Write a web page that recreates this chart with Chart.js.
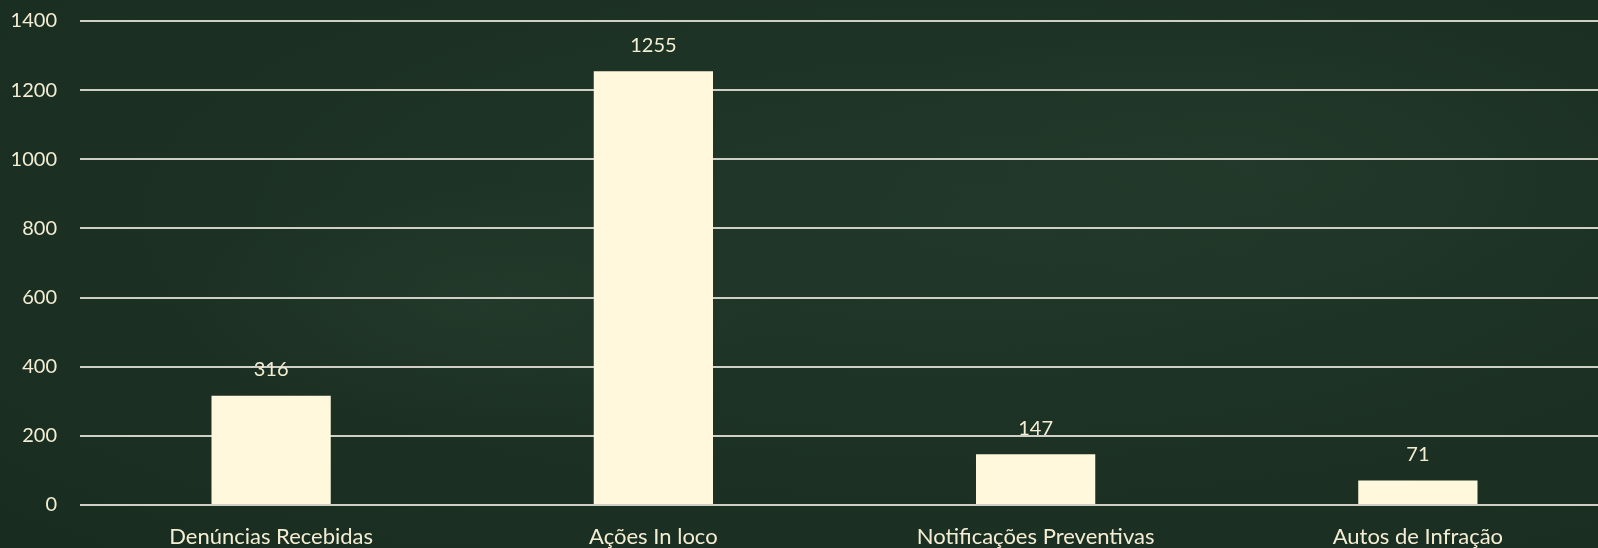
<!DOCTYPE html>
<html>
<head>
<meta charset="utf-8">
<script src="https://cdn.jsdelivr.net/npm/chart.js@4.4.1/dist/chart.umd.min.js"></script>
<style>
  html, body { margin: 0; padding: 0; }
  body {
    width: 1598px; height: 548px; overflow: hidden;
    background:
      radial-gradient(ellipse 300px 120px at 30% 55%, rgba(40,62,46,0.5), rgba(40,62,46,0)),
      radial-gradient(ellipse 400px 160px at 78% 30%, rgba(38,60,45,0.5), rgba(38,60,45,0)),
      radial-gradient(ellipse at 60% 40%, #20382a 0%, #1c3124 55%, #192c20 100%);
  }
  /* the plot runs a little past the right edge, as in the original */
  #wrap { position: relative; width: 1609px; height: 548px; }
</style>
</head>
<body>
<div id="wrap"><canvas id="bars"></canvas></div>
<script>
const categories = ['Denúncias Recebidas', 'Ações In loco', 'Notificações Preventivas', 'Autos de Infração'];
const values = [316, 1255, 147, 71];
const yTicks = [0, 200, 400, 600, 800, 1000, 1200, 1400];

const cream = '#fff8dc';
const textColor = '#f3eed3';

// value labels above each bar
const valueLabels = {
  id: 'valueLabels',
  afterDatasetsDraw(chart) {
    const ctx = chart.ctx;
    const meta = chart.getDatasetMeta(0);
    ctx.save();
    ctx.fillStyle = textColor;
    ctx.font = '20px Lato';
    ctx.textAlign = 'center';
    ctx.textBaseline = 'middle';
    meta.data.forEach((bar, i) => {
      ctx.fillText(values[i], bar.x, bar.y - 26);
    });
    ctx.restore();
  }
};

new Chart(document.getElementById('bars'), {
  type: 'bar',
  data: {
    labels: categories,
    datasets: [{
      data: values,
      backgroundColor: cream,
      borderWidth: 0,
      barPercentage: 0.312,
      categoryPercentage: 1
    }]
  },
  options: {
    responsive: true,
    maintainAspectRatio: false,
    animation: false,
    layout: { padding: { top: 21, right: 0, bottom: 0, left: 0 } },
    plugins: {
      legend: { display: false },
      tooltip: { enabled: false }
    },
    scales: {
      x: {
        grid: { display: false },
        border: { display: false },
        ticks: { color: textColor, font: { family: 'Lato', size: 22 }, padding: 11, maxRotation: 0, autoSkip: false },
        afterFit(scale) {
          scale.height = 43;
          scale.paddingLeft = 0;
          scale.paddingRight = 0;
        }
      },
      y: {
        min: 0,
        max: 1400,
        afterBuildTicks(scale) { scale.ticks = yTicks.map(v => ({ value: v })); },
        grid: { color: '#cfcfc6', lineWidth: 2, drawTicks: false },
        border: { display: false },
        ticks: {
          color: textColor,
          font: { family: 'Lato', size: 20 },
          padding: 23,
          callback: (v) => String(v)
        },
        afterFit(scale) {
          scale.width = 80;
          scale.paddingTop = 0;
          scale.paddingBottom = 0;
        }
      }
    }
  },
  plugins: [valueLabels]
});
</script>
</body>
</html>
